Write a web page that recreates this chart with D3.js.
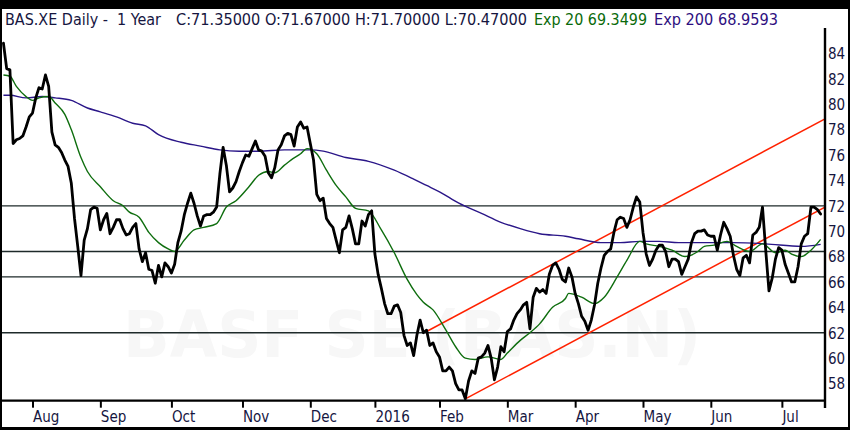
<!DOCTYPE html>
<html><head><meta charset="utf-8">
<script src="https://cdn.jsdelivr.net/npm/d3@7"></script>
<style>html,body{margin:0;padding:0;background:#000}</style>
</head><body>
<svg id="c" width="850" height="430"></svg>
<script>
// ---- data ----
const closes = [84.8,82.8,82.7,76.9,77.2,77.3,77.5,78.2,79.0,79.3,
80.5,81.3,81.2,82.3,81.4,77.8,76.8,76.6,76.2,75.6,
75.1,73.8,71.0,68.8,66.5,69.3,70.2,71.7,71.9,71.8,
70.1,70.9,71.4,69.8,70.3,70.9,70.9,70.2,69.7,69.8,
70.3,70.6,68.6,67.6,68.3,67.0,66.9,65.9,67.3,66.4,
67.5,67.2,66.7,67.4,69.1,70.0,71.3,72.2,73.0,72.2,
71.2,70.4,71.2,71.3,71.3,71.5,71.9,74.5,76.6,75.2,
73.1,73.4,73.9,74.7,75.4,76.0,75.9,76.5,77.1,76.4,
76.3,75.9,74.6,74.2,75.0,76.4,76.8,77.5,77.7,77.6,
76.7,78.2,78.6,78.1,78.2,76.9,75.6,72.9,72.4,72.6,
71.0,70.6,70.3,69.3,68.3,70.1,70.3,71.2,70.2,69.0,
69.0,70.8,70.4,71.3,71.6,68.2,66.6,65.5,64.3,63.5,
63.5,64.1,64.2,63.6,61.8,61.0,61.2,60.2,61.8,63.0,
62.0,62.2,61.0,61.2,60.5,60.1,59.0,59.0,59.3,59.0,
58.0,57.5,57.5,56.8,58.2,59.0,58.8,60.0,60.1,60.4,
61.0,60.0,58.3,59.3,60.9,60.5,62.1,62.3,63.0,63.5,
63.8,64.2,64.4,62.3,64.8,65.5,65.2,65.4,65.1,66.6,
67.3,67.5,67.0,66.2,66.0,67.1,66.4,65.1,64.3,63.3,
62.9,62.2,63.0,64.2,65.9,67.1,68.1,68.4,68.6,69.9,
70.9,71.1,71.0,70.3,70.9,71.9,72.7,72.3,69.9,68.2,
67.3,67.8,68.5,68.9,68.9,68.4,67.2,67.8,67.8,67.6,
66.6,67.2,67.8,69.1,69.8,70.0,70.0,70.1,69.7,69.6,
69.6,68.5,69.7,70.7,70.2,69.6,68.1,67.0,66.5,67.9,
68.1,67.5,69.7,69.9,70.3,71.9,68.5,65.3,66.3,67.8,
68.7,68.5,67.4,66.7,66.0,66.0,67.2,69.0,69.6,69.8,
71.9,71.9,71.7,71.35];

const ema20Days = [0,2,4,7,9,11,14,16,19,21,24,26,30,34,37,39,42,45,48,51,53,56,59,62,66,69,72,76,79,82,84,87,89,92,94,97,100,103,106,109,113,117,121,125,128,130,133,137,140,143,146,150,154,156,160,163,166,170,174,175,179,183,186,190,193,197,199,203,207,211,215,217,220,224,227,231,235,239,242,244,247,250,253];
const ema20Vals = [82.3,82.2,81.4,80.6,80.3,80.5,80.6,80.1,79.2,78.0,75.8,74.7,73.5,72.4,72.0,71.5,71.1,69.9,69.1,68.6,68.4,69.3,70.1,70.3,70.6,71.9,72.4,73.5,74.4,74.7,74.6,75.2,75.6,76.1,76.5,76.1,74.8,73.6,72.7,71.8,71.6,70.1,68.3,66.2,65.0,64.4,63.8,62.2,60.9,60.0,59.9,60.1,59.9,60.4,61.4,62.0,62.7,64.0,64.7,65.1,64.8,64.3,64.8,66.4,67.7,69.2,69.0,68.8,68.5,68.0,68.4,68.8,68.9,69.2,68.8,68.4,69.0,68.3,68.5,68.2,68.0,68.5,69.35];

const ema200Days = [0,2,7,12,16,21,26,30,35,40,44,48,55,61,67,73,79,87,95,99,106,113,121,127,131,135,141,148,154,160,166,174,178,185,191,197,203,209,217,226,236,247,253];
const ema200Vals = [80.7,80.7,80.5,80.6,80.5,80.3,79.7,79.4,79.0,78.5,78.3,77.6,77.0,76.7,76.4,76.3,76.3,76.4,76.4,76.3,75.8,75.5,74.8,74.1,73.6,73.1,72.2,71.4,70.7,70.2,69.8,69.6,69.4,69.1,69.1,69.2,69.2,69.1,69.1,69.1,69.0,68.8,68.96];

const levels = [72, 68.4, 66.4, 62];
const trendStartDay = [131, 143];
const trendStartVal = [62.1, 56.8];
const trendEndDay = [254.35, 254.35];
const trendEndVal = [78.85, 71.9];

const yTicks = [58,60,62,64,66,68,70,72,74,76,78,80,82,84];
const monthDays = [9,30,52,74,95,115,135,156,177,198,219,241];
const monthLabels = ["Aug","Sep","Oct","Nov","Dec","2016","Feb","Mar","Apr","May","Jun","Jul"];

// ---- drawing ----
const svg = d3.select("#c");
const L = 2, R = 825, T = 28, B = 400.7;
const x = d3.scaleLinear().domain([-0.45, 254.35]).range([L, R]);
const y = d3.scaleLinear().domain([56.65, 86.0]).range([B, T]);
const navy = "#16163f";
const font = "'DejaVu Sans Condensed','DejaVu Sans',sans-serif";

svg.append("rect").attr("x",0).attr("y",0).attr("width",850).attr("height",430).attr("fill","#000");
svg.append("rect").attr("x",2).attr("y",9).attr("width",846).attr("height",418).attr("fill","#fff");

svg.append("defs").append("clipPath").attr("id","clip")
  .append("rect").attr("x",L).attr("y",T).attr("width",R-L).attr("height",B-T);

// watermark
svg.append("text").attr("x",123).attr("y",357)
  .attr("font-family","'DejaVu Sans',sans-serif").attr("font-weight","bold").attr("font-size",64)
  .attr("fill","#f7f7f7").attr("textLength",578).attr("lengthAdjust","spacingAndGlyphs")
  .text("BASF SE (BAS.N)");

const g = svg.append("g").attr("clip-path","url(#clip)");

// horizontal levels
g.selectAll("line.lvl").data(levels).join("line").attr("class","lvl")
  .attr("x1",L).attr("x2",R).attr("y1",d=>y(d)).attr("y2",d=>y(d))
  .attr("stroke","#1e2a2a").attr("stroke-width",1.3);

// trend channel
g.selectAll("line.tr").data(trendStartDay).join("line").attr("class","tr")
  .attr("x1",(d,i)=>x(d)).attr("y1",(d,i)=>y(trendStartVal[i]))
  .attr("x2",(d,i)=>x(trendEndDay[i])).attr("y2",(d,i)=>y(trendEndVal[i]))
  .attr("stroke","#ff2200").attr("stroke-width",1.5);

// EMA 200
g.append("path").datum(ema200Days.map((d,i)=>[d,ema200Vals[i]]))
  .attr("fill","none").attr("stroke","#2a1688").attr("stroke-width",1.4)
  .attr("d", d3.line().x(d=>x(d[0])).y(d=>y(d[1])).curve(d3.curveMonotoneX));

// EMA 20
g.append("path").datum(ema20Days.map((d,i)=>[d,ema20Vals[i]]))
  .attr("fill","none").attr("stroke","#0f6e0f").attr("stroke-width",1.4)
  .attr("d", d3.line().x(d=>x(d[0])).y(d=>y(d[1])).curve(d3.curveMonotoneX));

// price
g.append("path").datum(closes)
  .attr("fill","none").attr("stroke","#000").attr("stroke-width",2.8)
  .attr("stroke-linejoin","round").attr("stroke-linecap","round")
  .attr("d", d3.line().x((d,i)=>x(i)).y(d=>y(d)));

// axes
svg.append("line").attr("x1",L).attr("x2",R+1).attr("y1",B).attr("y2",B).attr("stroke","#000").attr("stroke-width",2.2);
svg.append("line").attr("x1",R).attr("x2",R).attr("y1",T).attr("y2",408).attr("stroke","#000").attr("stroke-width",2.4);

const yAxis = svg.append("g").attr("transform",`translate(${R+3},0)`)
  .call(d3.axisRight(y).tickValues(yTicks).tickSize(0).tickPadding(0).tickFormat(d3.format("d")));
yAxis.select(".domain").remove();
yAxis.selectAll("text").attr("font-family",font).attr("font-size",15).attr("font-weight",500).attr("fill",navy).attr("dy","0.35em");

const xAxis = svg.append("g").attr("transform",`translate(0,${B})`)
  .call(d3.axisBottom(x).tickValues(monthDays).tickSize(7).tickFormat((d,i)=>monthLabels[i]));
xAxis.select(".domain").remove();
xAxis.selectAll("line").attr("stroke","#000").attr("stroke-width",2);
xAxis.selectAll("text").attr("font-family",font).attr("font-size",15).attr("font-weight",500).attr("fill",navy)
  .attr("text-anchor","start").attr("x",0).attr("y",11).attr("dy","0.71em");

// title
const titleSegs = ["BAS.XE Daily -  1 Year", "C:71.35000 O:71.67000 H:71.70000 L:70.47000", "Exp 20 69.3499", "Exp 200 68.9593"];
const titleX = [5, 176, 534, 654];
const titleW = [156, 351, 113, 124];
const titleC = [navy, navy, "#0a6a0a", "#2e0f80"];
svg.selectAll("text.title").data(titleSegs).join("text").attr("class","title")
  .attr("x",(d,i)=>titleX[i]).attr("y",25)
  .attr("font-family",font).attr("font-size",15.5)
  .attr("fill",(d,i)=>titleC[i])
  .attr("textLength",(d,i)=>titleW[i]).attr("lengthAdjust","spacingAndGlyphs")
  .style("white-space","pre").attr("xml:space","preserve")
  .text(d=>d);
</script>
</body></html>
